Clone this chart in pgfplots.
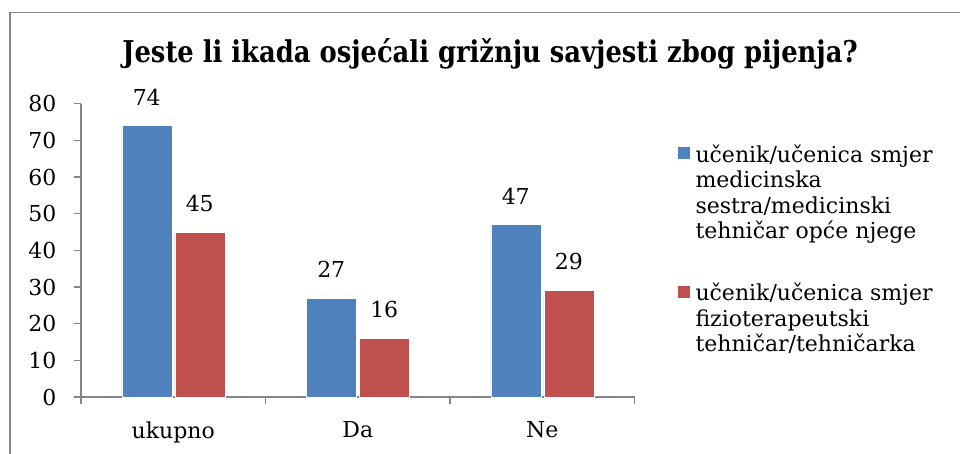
\documentclass[border=0pt]{standalone}
\usepackage{pgfplots}
\pgfplotsset{compat=1.18}
\usepackage{graphicx}
\usepackage{fontspec}
\setmainfont{DejaVu Serif}
\definecolor{barblue}{RGB}{79,129,189}
\definecolor{barred}{RGB}{192,80,77}
\definecolor{axgray}{RGB}{134,134,134}
\newcommand\chartfont{\fontsize{22}{25.5}\selectfont}
\begin{document}
\begin{tikzpicture}
\useasboundingbox (0pt,0pt) rectangle (960pt,454pt);
% outer chart frame (cut off at the right and bottom)
\draw[axgray, line width=1.8pt] (10pt,-10pt) -- (10pt,441.5pt) -- (970pt,441.5pt);
\node at (490pt,400pt) {\scalebox{0.86}[1]{\fontsize{30}{34}\selectfont\bfseries Jeste li ikada osjećali grižnju savjesti zbog pijenja?}};
\begin{axis}[
    at={(81pt,57pt)}, anchor=origin,
    scale only axis, width=553.5pt, height=293.3pt,
    xmin=0, xmax=3, ymin=0, ymax=80,
    enlargelimits=false, clip=false,
    axis x line*=bottom, axis y line*=left,
    axis line style={axgray, line width=1.2pt, -},
    tick align=outside, major tick length=7pt, minor tick length=7pt,
    tick style={axgray, line width=1.2pt},
    xtick={0.5,1.5,2.5}, xticklabels={ukupno,Da,Ne},
    major x tick style={draw=none},
    minor xtick={0,1,2,3},
    ytick={0,10,...,80},
    ticklabel style={font=\chartfont},
    xticklabel style={yshift=-14pt},
    yticklabel style={xshift=-14pt},
    /pgf/number format/assume math mode=true,
    ybar, bar width=50pt,
    nodes near coords,
    nodes near coords style={font=\chartfont, yshift=17pt},
    legend style={at={(1.073,0.875)}, anchor=north west, draw=none, fill=none,
        font=\chartfont, cells={align=left}, row sep=39pt},
]
\addplot[fill=barblue, draw=white, bar shift=-26.5pt,
    legend image code/.code={\fill[barblue] (0pt,33.75pt) rectangle (11pt,44.75pt);
        \path (15pt,33.75pt);}]
    coordinates {(0.5,74) (1.5,27) (2.5,47)};
\addplot[fill=barred, draw=white, bar shift=26.5pt,
    legend image code/.code={\fill[barred] (0pt,21pt) rectangle (11pt,32pt);
        \path (15pt,21pt);}]
    coordinates {(0.5,45) (1.5,16) (2.5,29)};
\legend{{učenik/učenica smjer\\medicinska\\sestra/medicinski\\tehničar opće njege},
        {učenik/učenica smjer\\fizioterapeutski\\tehničar/tehničarka}}
\end{axis}
\end{tikzpicture}
\end{document}
